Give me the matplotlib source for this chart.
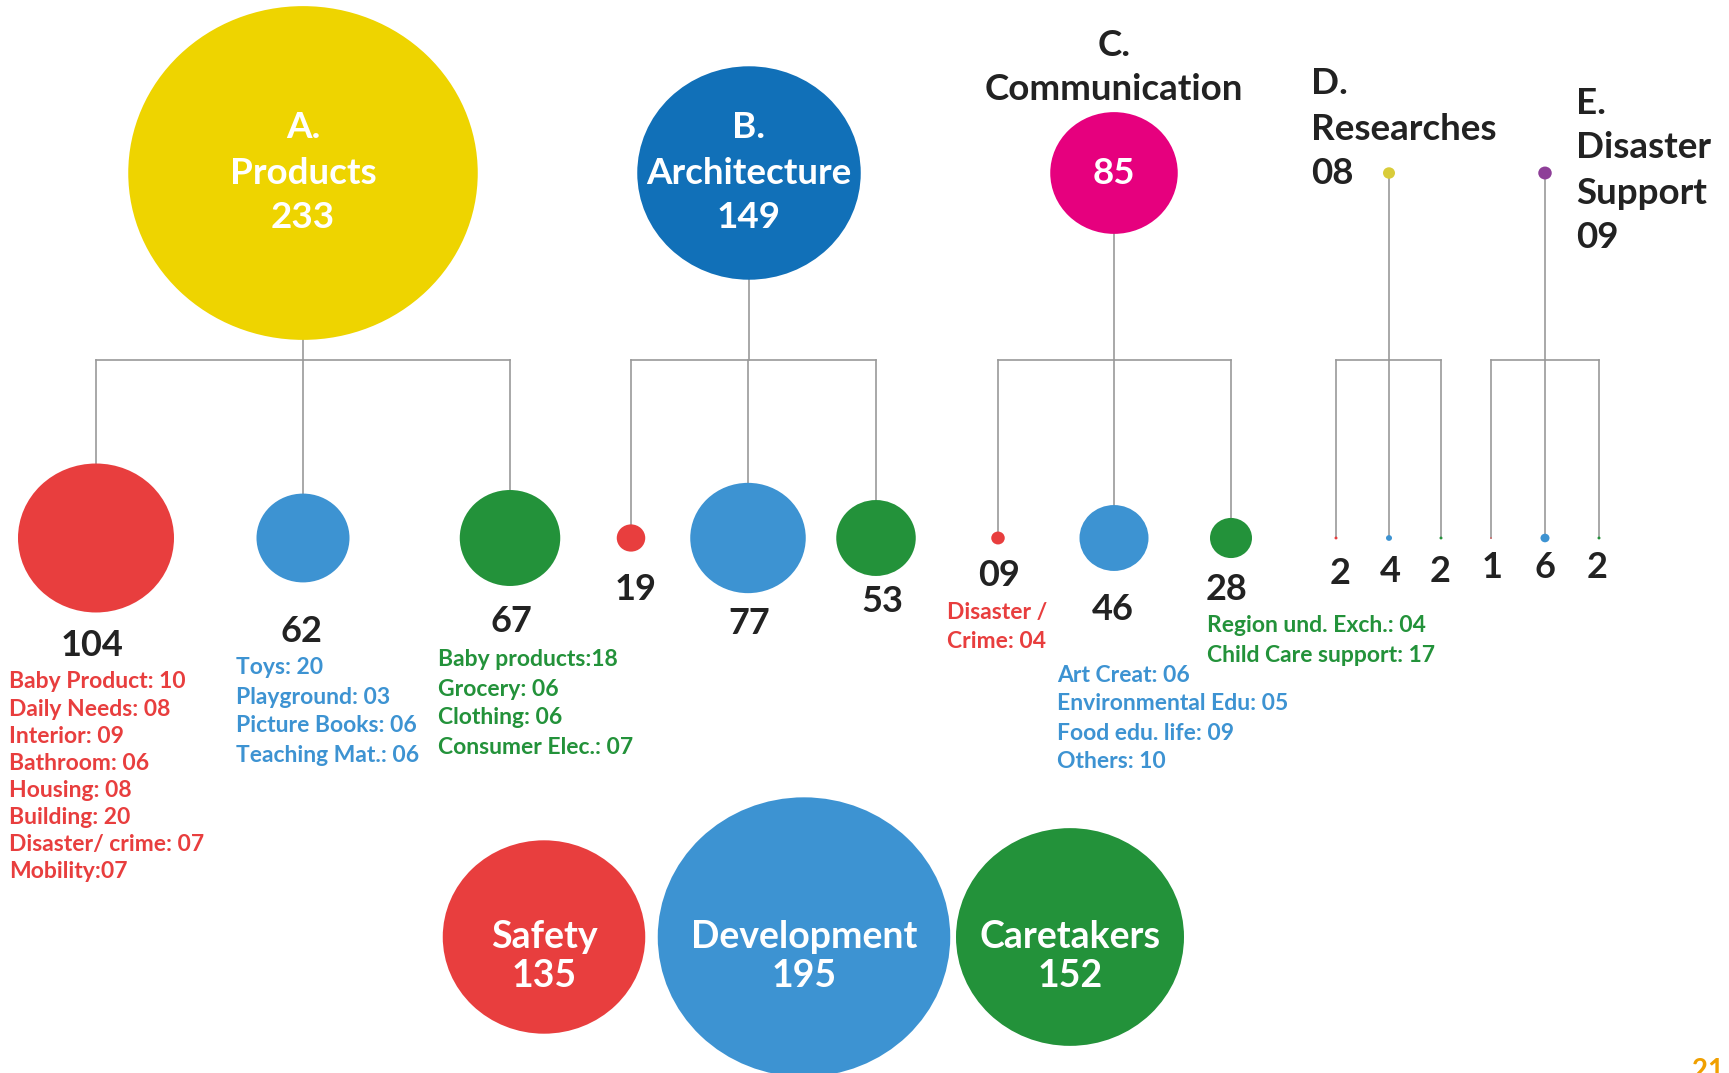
#!/usr/bin/env python3

"""
Bubble tree of case-study counts: five top categories, their three
sub-groups, and the three overall themes at the bottom.
"""

import matplotlib

matplotlib.use("Agg")

import matplotlib.pyplot as plt
from matplotlib.patches import Ellipse

# Data

top_labels = ["A.\nProducts", "B.\nArchitecture", "C.\nCommunication", "D.", "E."]
top_values = [233, 149, 85, 8, 9]

# sub-groups under each category (Safety, Development, Caretakers order)
child_values = [
    [104, 62, 67],
    [19, 77, 53],
    [9, 46, 28],
    [2, 4, 2],
    [1, 6, 2],
]

detail_red_a = [
    "Baby Product: 10",
    "Daily Needs: 08",
    "Interior: 09",
    "Bathroom: 06",
    "Housing: 08",
    "Building: 20",
    "Disaster/ crime: 07",
    "Mobility:07",
]
detail_blue_a = ["Toys: 20", "Playground: 03", "Picture Books: 06", "Teaching Mat.: 06"]
detail_green_a = ["Baby products:18", "Grocery: 06", "Clothing: 06", "Consumer Elec.: 07"]
detail_red_c = ["Disaster /", "Crime: 04"]
detail_blue_c = ["Art Creat: 06", "Environmental Edu: 05", "Food edu. life: 09", "Others: 10"]
detail_green_c = ["Region und. Exch.: 04", "Child Care support: 17"]

bottom_labels = ["Safety", "Development", "Caretakers"]
bottom_values = [135, 195, 152]

# Layout (pixel coordinates, y down)

W, H = 1729, 1073
K = 0.75  # px of radius per case
ASPECT = 0.955  # the source image is slightly squashed vertically

FONT = "Lato"
BLACK = "#222222"
GREY = "#9a9a9a"
RED = "#e83e3e"
BLUE = "#3d93d2"
GREEN = "#23923a"
top_colors = ["#eed400", "#1170b8", "#e6007e", "#d9cc3a", "#8e3f98"]
child_colors = [RED, BLUE, GREEN]

HEAD_SIZE = 26.5
NUM_SIZE = 26
DETAIL_SIZE = 16.5
BOTTOM_SIZE = 27

TOP_Y = 173
BRACKET_Y = 360
CHILD_Y = 538
top_x = [303, 749, 1114, 1389, 1545]
child_x = [
    [96, 303, 510],
    [631, 748, 876],
    [998, 1114, 1231],
    [1336, 1389, 1441],
    [1491, 1545, 1599],
]
child_label_y = [
    [646, 631, 621],
    [589, 624, 602],
    [576, 609, 589],
    [573, 571, 571],
    [567, 567, 567],
]
child_label_dx = [
    [-4, -2, 1],
    [5, 1, 6],
    [1, -1, -4],
    [4, 1, -1],
    [1, 0, -2],
]

bottom_x = [544, 804, 1070]
BOTTOM_Y = 937


def bubble(ax, x, y, value, color, z=3):
    r = K * value
    ax.add_patch(
        Ellipse((x, y), 2 * r, 2 * r * ASPECT, facecolor=color, edgecolor="none", zorder=z)
    )


def text_lines(ax, x, y0, dy, lines, color, size, ha="left"):
    for i, line in enumerate(lines):
        ax.text(
            x, y0 + i * dy, line, color=color, fontsize=size, fontfamily=FONT,
            fontweight="bold", ha=ha, va="center", zorder=4,
        )


def main() -> None:
    fig = plt.figure(figsize=(W / 100, H / 100), dpi=100)
    ax = fig.add_axes([0, 0, 1, 1])
    ax.set_xlim(0, W)
    ax.set_ylim(H, 0)
    ax.axis("off")

    # Tree lines and bubbles

    for i, (tx, tv) in enumerate(zip(top_x, top_values)):
        xs = child_x[i]
        ax.plot([tx, tx], [TOP_Y, BRACKET_Y], color=GREY, lw=1.2, zorder=1)
        ax.plot([xs[0], xs[-1]], [BRACKET_Y, BRACKET_Y], color=GREY, lw=1.2, zorder=1)
        for cx in xs:
            ax.plot([cx, cx], [BRACKET_Y, CHILD_Y], color=GREY, lw=1.2, zorder=1)

        bubble(ax, tx, TOP_Y, tv, top_colors[i])

        for j, cv in enumerate(child_values[i]):
            bubble(ax, xs[j], CHILD_Y, cv, child_colors[j])
            label = str(cv) if i >= 3 else f"{cv:02d}"
            ax.text(
                xs[j] + child_label_dx[i][j], child_label_y[i][j], label, color=BLACK,
                fontsize=NUM_SIZE, fontfamily=FONT, fontweight="bold", ha="center",
                va="center",
            )

    # Category titles

    for i in range(3):
        lines = top_labels[i].split("\n")
        if i < 2:
            lines = lines + [str(top_values[i])]
            text_lines(ax, top_x[i], 128, 45, lines, "white", HEAD_SIZE, ha="center")
        else:
            text_lines(ax, top_x[i], 45, 45, lines, BLACK, HEAD_SIZE, ha="center")
            text_lines(ax, top_x[i], TOP_Y, 0, [str(top_values[i])], "white", HEAD_SIZE,
                       ha="center")

    text_lines(ax, 1311, 84, 45, ["D.", "Researches", f"{top_values[3]:02d}"], BLACK,
               HEAD_SIZE)
    text_lines(ax, 1576, 103, 45, ["E.", "Disaster", "Support", f"{top_values[4]:02d}"],
               BLACK, HEAD_SIZE)

    # Sub-group details

    text_lines(ax, 9, 682, 27.1, detail_red_a, RED, DETAIL_SIZE)
    text_lines(ax, 236, 668, 29, detail_blue_a, BLUE, DETAIL_SIZE)
    text_lines(ax, 438, 660, 29, detail_green_a, GREEN, DETAIL_SIZE)
    text_lines(ax, 947, 612, 29, detail_red_c, RED, DETAIL_SIZE)
    text_lines(ax, 1057, 675, 29, detail_blue_c, BLUE, DETAIL_SIZE)
    text_lines(ax, 1207, 626, 29, detail_green_c, GREEN, DETAIL_SIZE)

    # Overall themes

    colors = [RED, BLUE, GREEN]
    for x, lab, v, c in zip(bottom_x, bottom_labels, bottom_values, colors):
        bubble(ax, x, BOTTOM_Y, v, c)
        text_lines(ax, x, BOTTOM_Y, 39, [lab, str(v)], "white", BOTTOM_SIZE, ha="center")

    # page number, cut by the page edge as in the source
    ax.text(1692, 1058, "21", color="#f0a000", fontsize=20, fontfamily=FONT,
            fontweight="bold", ha="left", va="top")

    fig.savefig("out.png", dpi=100)


if __name__ == "__main__":
    main()
